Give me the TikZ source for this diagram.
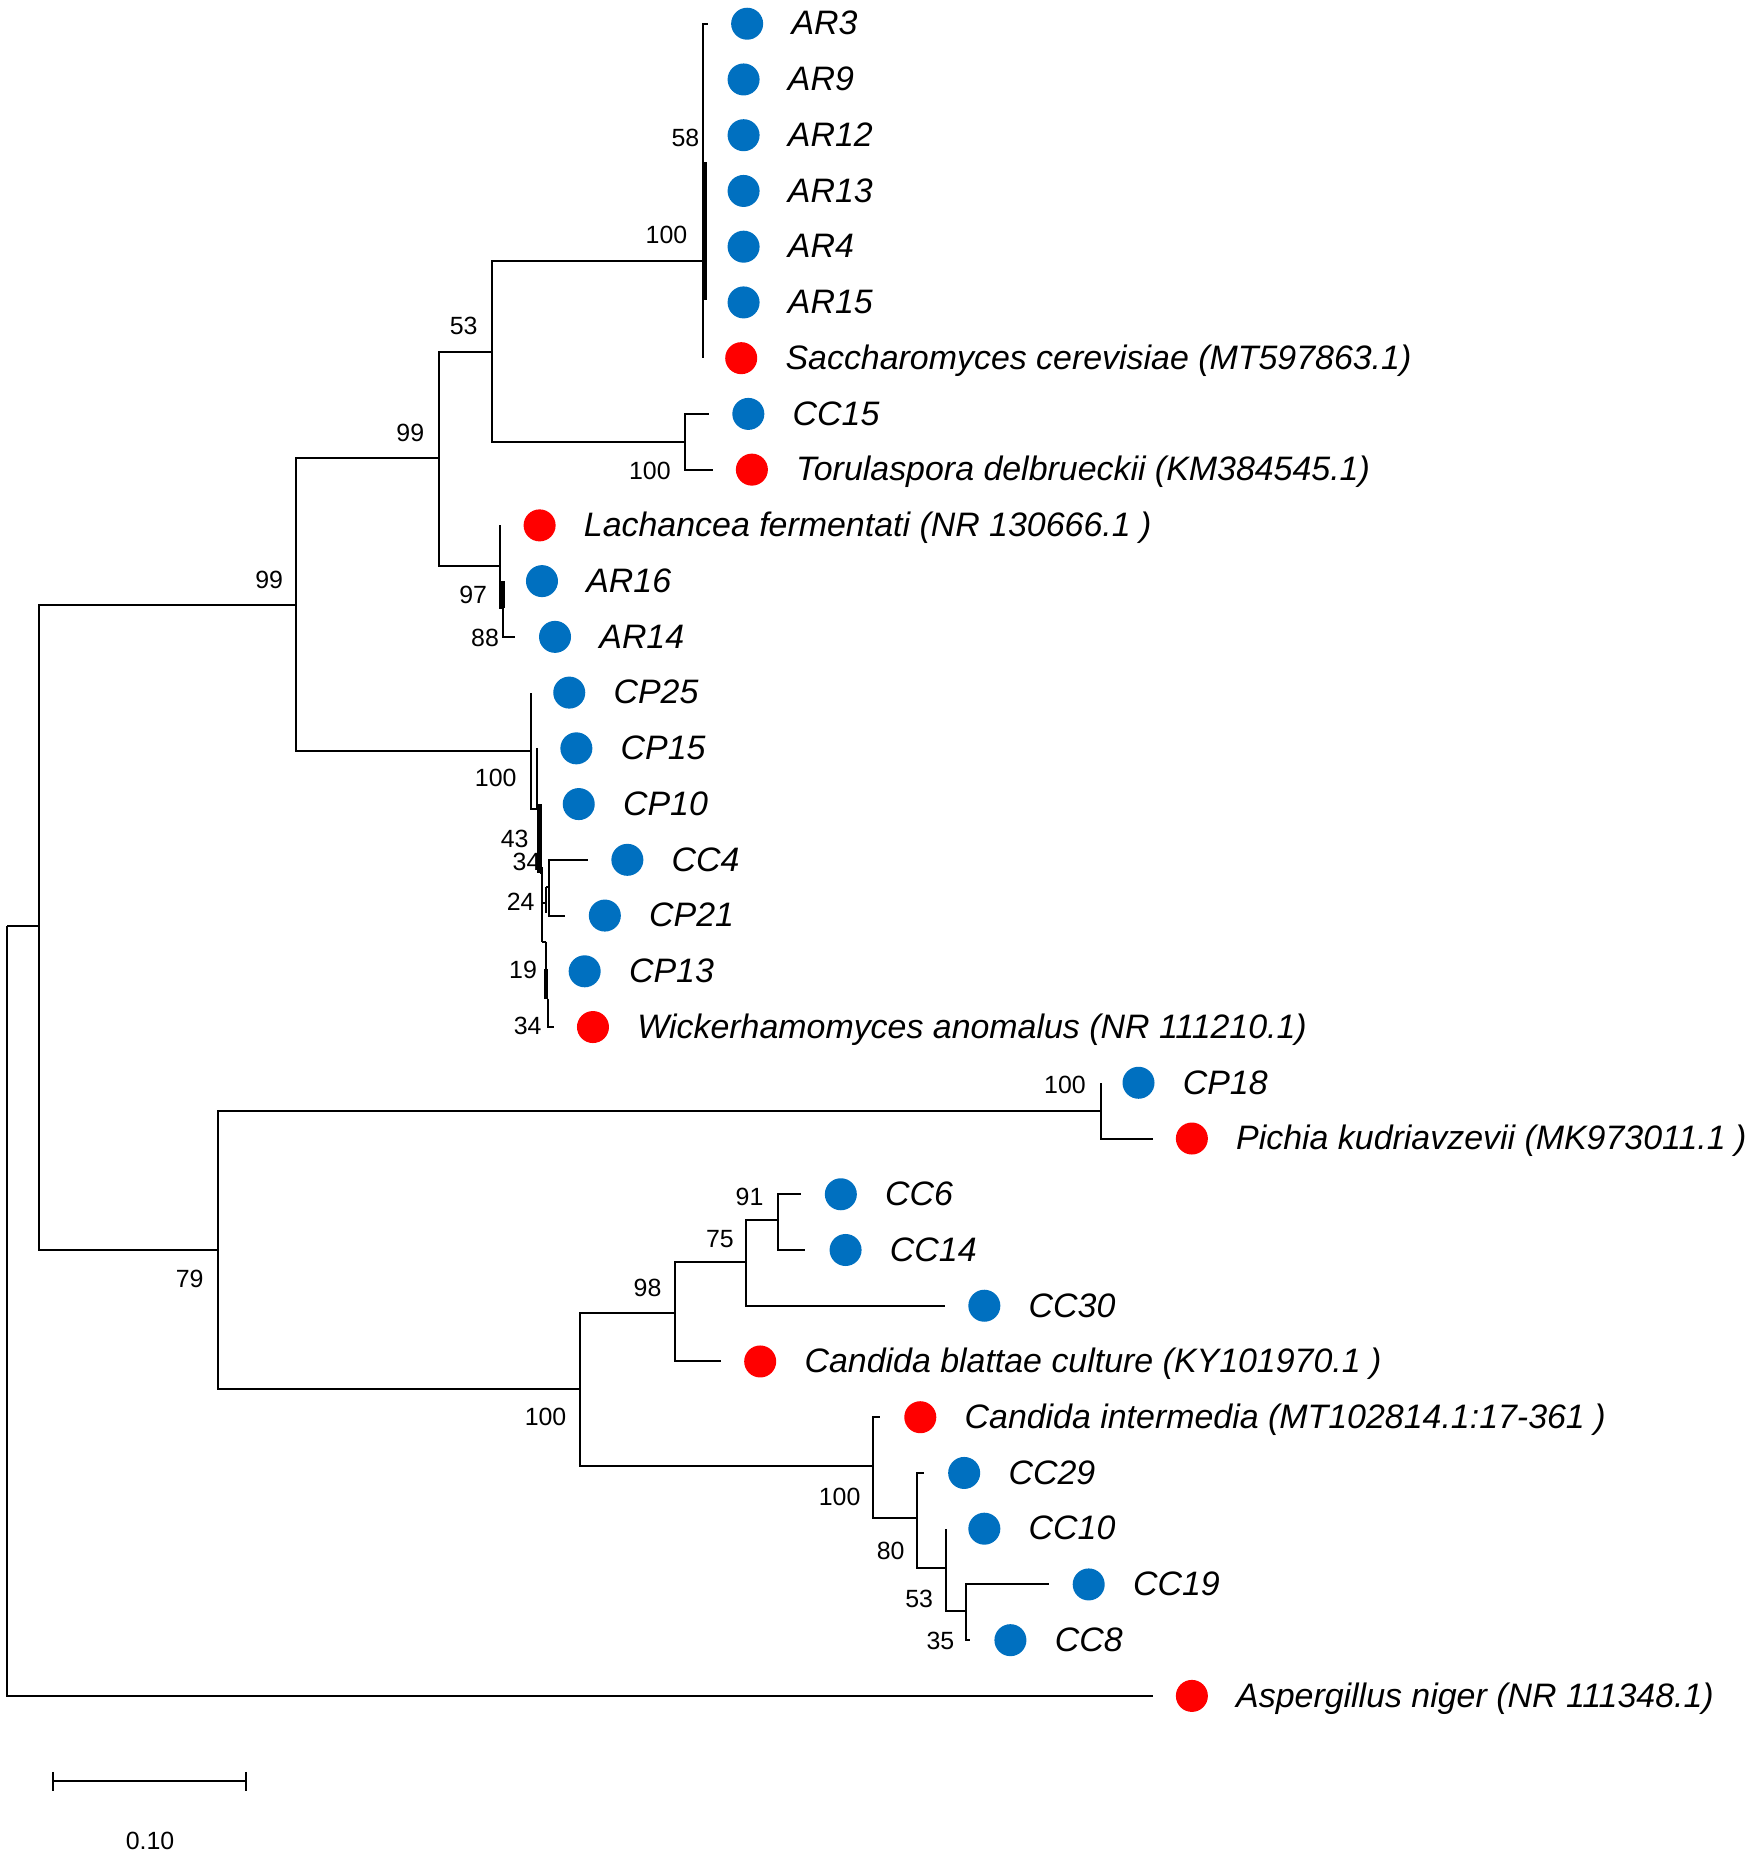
\documentclass[tikz,border=0pt]{standalone}
\usepackage{fontspec}
\setmainfont{Liberation Sans}
\definecolor{mblue}{RGB}{0,112,192}
\definecolor{mred}{RGB}{255,0,0}
\newcommand\mkleaf[6]{%
  \coordinate (#1t) at (#2,{20+47*#4});
  \node[dot,fill=#5] (#1m) at (#3,{20+47*#4}) {};
  \node[lbl] (#1l) at ({#3+37},{20+47*#4+9.5}) {#6};
}
\begin{document}
\begin{tikzpicture}[x=0.5pt,y=-0.5pt,
  br/.style={line width=0.85pt},
  thk/.style={line width=1.8pt},
  lbl/.style={font=\fontsize{14.3}{16}\selectfont\itshape, anchor=base west, inner sep=0pt},
  bs/.style={font=\fontsize{10.5}{12}\selectfont, inner sep=0pt},
  dot/.style={circle, draw=none, minimum size=13.5pt, inner sep=0pt}]
\useasboundingbox (0,0) rectangle (1480,1565);
% leaves
\mkleaf{ar3}{597}{630}{0}{mblue}{AR3}
\mkleaf{ar9}{593}{627}{1}{mblue}{AR9}
\mkleaf{ar12}{593}{627}{2}{mblue}{AR12}
\mkleaf{ar13}{594}{627}{3}{mblue}{AR13}
\mkleaf{ar4}{594}{627}{4}{mblue}{AR4}
\mkleaf{ar15}{594}{627}{5}{mblue}{AR15}
\mkleaf{sac}{593}{625}{6}{mred}{Saccharomyces cerevisiae (MT597863.1)}
\mkleaf{cc15}{598}{631}{7}{mblue}{CC15}
\mkleaf{tor}{601}{634}{8}{mred}{Torulaspora delbrueckii (KM384545.1)}
\mkleaf{lach}{422}{455}{9}{mred}{Lachancea fermentati (NR 130666.1 )}
\mkleaf{ar16}{424}{457}{10}{mblue}{AR16}
\mkleaf{ar14}{434}{468}{11}{mblue}{AR14}
\mkleaf{cp25}{447.5}{480}{12}{mblue}{CP25}
\mkleaf{cp15}{453}{486}{13}{mblue}{CP15}
\mkleaf{cp10}{455}{488}{14}{mblue}{CP10}
\mkleaf{cc4}{496}{529}{15}{mblue}{CC4}
\mkleaf{cp21}{476}{510}{16}{mblue}{CP21}
\mkleaf{cp13}{460.5}{493}{17}{mblue}{CP13}
\mkleaf{wic}{467}{500}{18}{mred}{Wickerhamomyces anomalus (NR 111210.1)}
\mkleaf{cp18}{928}{960}{19}{mblue}{CP18}
\mkleaf{pic}{972}{1005}{20}{mred}{Pichia kudriavzevii (MK973011.1 )}
\mkleaf{cc6}{675}{709}{21}{mblue}{CC6}
\mkleaf{cc14}{679}{713}{22}{mblue}{CC14}
\mkleaf{cc30}{797}{830}{23}{mblue}{CC30}
\mkleaf{bla}{608}{641}{24}{mred}{Candida blattae culture (KY101970.1 )}
\mkleaf{int}{742}{776}{25}{mred}{Candida intermedia (MT102814.1:17-361 )}
\mkleaf{cc29}{779}{813}{26}{mblue}{CC29}
\mkleaf{cc10}{797.5}{830}{27}{mblue}{CC10}
\mkleaf{cc19}{884.6}{918}{28}{mblue}{CC19}
\mkleaf{cc8}{818}{852}{29}{mblue}{CC8}
\mkleaf{asp}{972}{1005}{30}{mred}{Aspergillus niger (NR 111348.1)}
% internal nodes
\coordinate (root) at (6,781);
\coordinate (A) at (33,781);
\coordinate (B) at (250,510);
\coordinate (C) at (184,1054);
\coordinate (D) at (370,386);
\coordinate (E) at (447.5,633);
\coordinate (F) at (415,297);
\coordinate (G) at (422,477);
\coordinate (H) at (593,220);
\coordinate (I) at (578,373);
\coordinate (Hs1) at (594,137);
\coordinate (Hs2) at (594,253);
\coordinate (G2) at (424,513);
\coordinate (E2) at (453,682);
\coordinate (E3) at (455,736);
\coordinate (E4a) at (457,731);
\coordinate (E4b) at (457,794);
\coordinate (E4m) at (457,761);
\coordinate (E5a) at (460.6,748);
\coordinate (E5b) at (460.6,770);
\coordinate (E6) at (463,748);
\coordinate (E7) at (460.5,794);
\coordinate (E7s) at (460.5,817);
\coordinate (E7b) at (460.5,842);
\coordinate (E8) at (462,842);
\coordinate (J) at (928,937);
\coordinate (K) at (489,1171);
\coordinate (L) at (569,1107);
\coordinate (M) at (736.5,1236);
\coordinate (N) at (629,1064);
\coordinate (O) at (656,1029);
\coordinate (P) at (773.5,1280);
\coordinate (Q) at (797.5,1322);
\coordinate (R) at (814.4,1358);
% branches
\draw[br] (root) -- (A);
\draw[br] (root) |- (aspt);
\draw[br] (A) |- (B);
\draw[br] (A) |- (C);
\draw[br] (B) |- (D);
\draw[br] (B) |- (E);
\draw[br] (D) |- (F);
\draw[br] (D) |- (G);
\draw[br] (F) |- (H);
\draw[br] (F) |- (I);
\draw[br] (I) |- (cc15t);
\draw[br] (I) |- (tort);
\draw[br] (H) |- (ar3t);
\draw[br] (H) |- (sact);
\draw[thk] (Hs1) -- (Hs2);
\draw[br] (G) |- (lacht);
\draw[br] (G) |- (G2);
\draw[thk] (G2) -- (ar16t);
\draw[br] (G2) |- (ar14t);
\draw[br] (E) |- (cp25t);
\draw[br] (E) |- (E2);
\draw[br] (E2) -- (cp15t);
\draw[br] (E2) -| (cp10t);
\draw[thk] (cp10t) -- (E3);
\draw[br] (E4a) -- (E4b);
\draw[br] (E3) -- (E4a |- E3);
\draw[br] (E4m) -- (E4m -| E5a);
\draw[br] (E5a) -- (E5b);
\draw[br] (E5a) -- (E6);
\draw[br] (E6) |- (cc4t);
\draw[br] (E6) |- (cp21t);
\draw[br] (E4b) -- (E7);
\draw[br] (E7) -- (E7b);
\draw[thk] (E7s) -- (E7b);
\draw[br] (E8) |- (wict);
\draw[br] (C) |- (J);
\draw[br] (C) |- (K);
\draw[br] (J) |- (cp18t);
\draw[br] (J) |- (pict);
\draw[br] (K) |- (L);
\draw[br] (K) |- (M);
\draw[br] (L) |- (N);
\draw[br] (L) |- (blat);
\draw[br] (N) |- (O);
\draw[br] (N) |- (cc30t);
\draw[br] (O) |- (cc6t);
\draw[br] (O) |- (cc14t);
\draw[br] (M) |- (intt);
\draw[br] (M) |- (P);
\draw[br] (P) |- (cc29t);
\draw[br] (P) |- (Q);
\draw[br] (Q) |- (cc10t);
\draw[br] (Q) |- (R);
\draw[br] (R) |- (cc19t);
\draw[br] (R) |- (cc8t);
% bootstrap values
\node[bs] (b1) at (578,116) {58};
\node[bs] (b2) at (562,198) {100};
\node[bs] (b3) at (391,275) {53};
\node[bs] (b4) at (346,365) {99};
\node[bs] (b5) at (548,397) {100};
\node[bs] (b6) at (227,489) {99};
\node[bs] (b7) at (399,502) {97};
\node[bs] (b8) at (409,538) {88};
\node[bs] (b9) at (418,656) {100};
\node[bs] (b10) at (434,707) {43};
\node[bs] (b11) at (444,727) {34};
\node[bs] (b12) at (439,760) {24};
\node[bs] (b13) at (441,818) {19};
\node[bs] (b14) at (445,865) {34};
\node[bs] (b15) at (898,915) {100};
\node[bs] (b16) at (632,1009) {91};
\node[bs] (b17) at (607,1045) {75};
\node[bs] (b18) at (546,1086) {98};
\node[bs] (b19) at (160,1078) {79};
\node[bs] (b20) at (460,1195) {100};
\node[bs] (b21) at (708,1262) {100};
\node[bs] (b22) at (751,1308) {80};
\node[bs] (b23) at (775,1348) {53};
\node[bs] (b24) at (793,1384) {35};
% scale bar
\coordinate (sb1) at (45,1502);
\coordinate (sb2) at (207.5,1502);
\draw[br] (sb1) -- (sb2);
\draw[br] ([yshift=4pt]sb1) -- ([yshift=-4pt]sb1);
\draw[br] ([yshift=4pt]sb2) -- ([yshift=-4pt]sb2);
\node[bs] (sbl) at (126.5,1552) {0.10};
\end{tikzpicture}
\end{document}
